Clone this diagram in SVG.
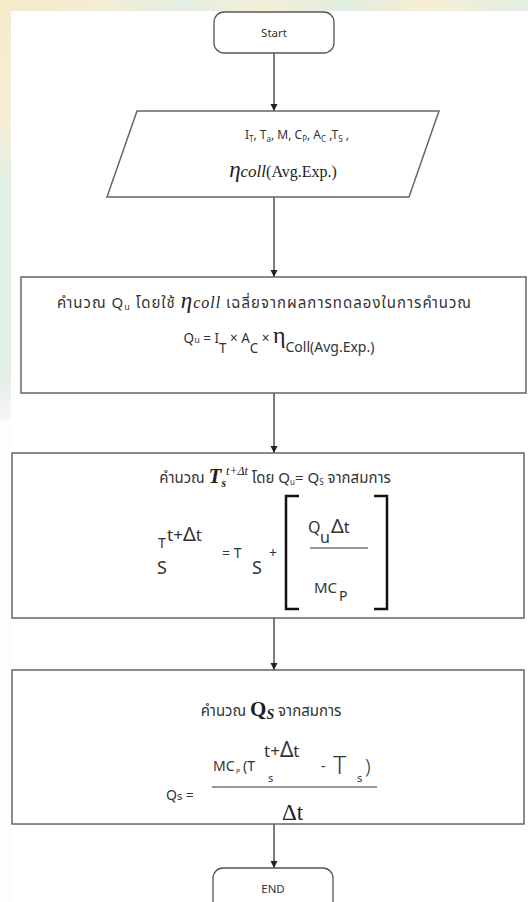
<svg xmlns="http://www.w3.org/2000/svg" width="528" height="902" viewBox="0 0 528 902">
<defs>
<linearGradient id="topBand" x1="0" y1="0" x2="1" y2="0">
<stop offset="0" stop-color="#f6eccb"/>
<stop offset="0.2" stop-color="#f3edd6"/>
<stop offset="0.35" stop-color="#e3efe4"/>
<stop offset="0.5" stop-color="#f4efd9"/>
<stop offset="0.65" stop-color="#e0ede2"/>
<stop offset="0.8" stop-color="#f6eed3"/>
<stop offset="1" stop-color="#e3efe4"/>
</linearGradient>
<linearGradient id="leftBand" x1="0" y1="0" x2="0" y2="1">
<stop offset="0" stop-color="#f6ecca"/>
<stop offset="0.3" stop-color="#f5eed8"/>
<stop offset="0.45" stop-color="#e2efe6"/>
<stop offset="0.9" stop-color="#e4efe8"/>
<stop offset="1" stop-color="#f7f7f4"/>
</linearGradient>
<marker id="arrow" viewBox="0 0 10 10" refX="10" refY="5" markerWidth="7" markerHeight="10" markerUnits="userSpaceOnUse" orient="auto">
<path d="M0,0 L10,5 L0,10 Z" fill="#222"/>
</marker>
<style>
.box{fill:#fff;stroke:#666;stroke-width:1.5}
.term{fill:#fff;stroke:#555;stroke-width:1.3}
.conn{stroke:#333;stroke-width:1.3;fill:none}
.sans{font-family:"Noto Sans","DejaVu Sans",sans-serif;fill:#333}
.thai{font-family:"Noto Sans Thai","Noto Sans Thai Looped","Tahoma","Noto Sans","DejaVu Sans",sans-serif;fill:#333;font-size:15px}
.serif{font-family:"Liberation Serif","DejaVu Serif",serif;fill:#222}
.brk{fill:none;stroke:#111;stroke-width:2.5}
.frac{stroke:#333;stroke-width:1.2}
</style>
</defs>
<rect x="0" y="0" width="528" height="902" fill="#fdfdfb"/>
<rect x="0" y="0" width="528" height="11" fill="url(#topBand)"/>
<rect x="0" y="0" width="11" height="420" fill="url(#leftBand)"/>
<rect x="11" y="11" width="517" height="891" fill="#ffffff"/>

<g id="connectors">
<line class="conn" x1="274" y1="53" x2="274" y2="111" marker-end="url(#arrow)"/>
<line class="conn" x1="274" y1="197" x2="274" y2="277" marker-end="url(#arrow)"/>
<line class="conn" x1="274" y1="393" x2="274" y2="453" marker-end="url(#arrow)"/>
<line class="conn" x1="274" y1="618" x2="274" y2="670" marker-end="url(#arrow)"/>
<line class="conn" x1="274" y1="824" x2="274" y2="868" marker-end="url(#arrow)"/>
</g>

<g id="start">
<rect class="term" x="214" y="12" width="120" height="41" rx="10"/>
<text class="sans" x="274" y="37" font-size="11.5" text-anchor="middle">Start</text>
</g>

<g id="input">
<polygon class="box" points="137,111 439,111 409,197 107,197"/>
<text class="sans" x="297" y="139" font-size="12" text-anchor="middle">I<tspan font-size="8" dy="3">T</tspan><tspan dy="-3">, T</tspan><tspan font-size="8" dy="3">a</tspan><tspan dy="-3">, M, C</tspan><tspan font-size="8" dy="3">P</tspan><tspan dy="-3">, A</tspan><tspan font-size="8" dy="3">C</tspan><tspan dy="-3"> ,T</tspan><tspan font-size="8" dy="3">S</tspan><tspan dy="-3"> ,</tspan></text>
<text class="serif" x="283" y="177" font-size="16" text-anchor="middle"><tspan font-style="italic" font-size="23">η</tspan><tspan font-style="italic" font-size="17">coll</tspan>(Avg.Exp.)</text>
</g>

<g id="calc-qu">
<rect class="box" x="21" y="277" width="505" height="116"/>
<text class="thai" x="57" y="308" font-size="16" textLength="414" lengthAdjust="spacing">คำนวณ Q<tspan font-size="9" dy="2">u</tspan><tspan dy="-2"> โดยใช้ </tspan><tspan class="serif" font-style="italic" font-size="23">η</tspan><tspan class="serif" font-style="italic" font-size="16">coll</tspan> เฉลี่ยจากผลการทดลองในการคำนวณ</text>
<text class="sans" x="279" y="343" font-size="13.5" text-anchor="middle">Q<tspan font-size="9">u</tspan> = I<tspan dy="10">T</tspan><tspan dy="-10"> × A</tspan><tspan dy="10">C</tspan><tspan dy="-10"> × </tspan><tspan class="serif" font-size="24">η</tspan><tspan font-size="14" dy="9">Coll(Avg.Exp.)</tspan></text>
</g>

<g id="calc-ts">
<rect class="box" x="12" y="453" width="512" height="165"/>
<text class="thai" x="275" y="483" text-anchor="middle">คำนวณ <tspan class="serif" font-style="italic" font-weight="bold" font-size="21">T</tspan><tspan class="serif" font-style="italic" font-weight="bold" font-size="12" dy="4">s</tspan><tspan class="serif" font-style="italic" font-size="12" dy="-12">t+Δt</tspan><tspan dy="8"> โดย Q</tspan><tspan font-size="8" dy="2">u</tspan><tspan dy="-2">= Q</tspan><tspan font-size="8" dy="2">S</tspan><tspan dy="-2">  จากสมการ</tspan></text>
<text class="sans" x="158" y="548" font-size="14">T</text>
<text class="sans" x="167" y="541" font-size="17">t+<tspan font-size="20">Δ</tspan>t</text>
<text class="sans" x="157" y="574" font-size="18">S</text>
<text class="sans" x="222" y="558" font-size="14">= T</text>
<text class="sans" x="252" y="574" font-size="18">S</text>
<text class="sans" x="269" y="558" font-size="14">+</text>
<path class="brk" d="M299,496 H286 V609 H299"/>
<path class="brk" d="M374,496 H387 V609 H374"/>
<text class="sans" x="308" y="533" font-size="16">Q</text>
<text class="sans" x="320" y="543" font-size="16">u</text>
<text class="sans" x="331" y="533" font-size="20">Δ<tspan font-size="16">t</tspan></text>
<line class="frac" x1="310" y1="548" x2="368" y2="548"/>
<text class="sans" x="314" y="593" font-size="15">MC</text>
<text class="sans" x="339" y="601" font-size="14">P</text>
</g>

<g id="calc-qs">
<rect class="box" x="12" y="670" width="512" height="154"/>
<text class="thai" x="271" y="716" text-anchor="middle">คำนวณ <tspan class="serif" font-weight="bold" font-size="21">Q</tspan><tspan class="serif" font-style="italic" font-weight="bold" font-size="14" dy="3">S</tspan><tspan dy="-3">  จากสมการ</tspan></text>
<text class="sans" x="166" y="800" font-size="14">Q<tspan font-size="11">s</tspan> =</text>
<text class="sans" x="213" y="771" font-size="14">MC</text>
<text class="sans" x="236" y="774" font-size="7">P</text>
<text class="sans" x="243" y="771" font-size="14">(T</text>
<text class="sans" x="264" y="757" font-size="17">t+<tspan font-size="21">Δ</tspan>t</text>
<text class="sans" x="268" y="782" font-size="11">s</text>
<text class="sans" x="321" y="771" font-size="14">-</text>
<text class="sans" x="333" y="774" font-size="25" font-weight="300">T</text>
<text class="sans" x="357" y="782" font-size="11">s</text>
<text class="sans" x="365" y="773" font-size="20" font-weight="300">)</text>
<line class="frac" x1="212" y1="787" x2="377" y2="787"/>
<text class="serif" x="282" y="820" font-size="23">Δt</text>
</g>

<g id="end">
<rect class="term" x="213" y="868" width="120" height="50" rx="10"/>
<text class="sans" x="273" y="893" font-size="11.5" text-anchor="middle">END</text>
</g>
</svg>
